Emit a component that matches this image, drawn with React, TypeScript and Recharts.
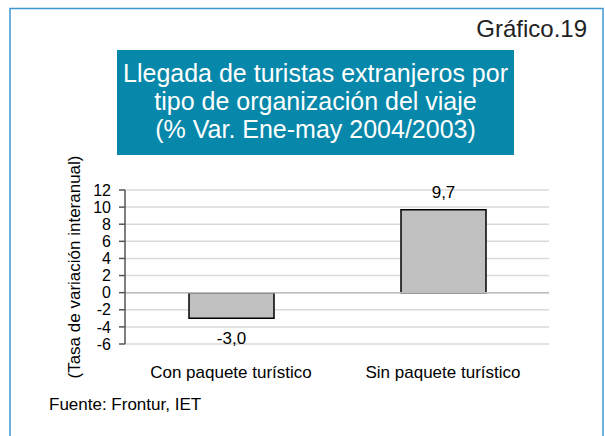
import React from 'react';
import {
  BarChart, Bar, XAxis, YAxis, CartesianGrid, ReferenceLine, LabelList,
} from 'recharts';

const categories = ['Con paquete turístico', 'Sin paquete turístico'];
const variation = [-3.0, 9.7];
const yTicks = [-6, -4, -2, 0, 2, 4, 6, 8, 10, 12];
const titleLines = [
  'Llegada de turistas extranjeros por',
  'tipo de organización del viaje',
  '(% Var. Ene-may 2004/2003)',
];
const chartNumber = 'Gráfico.19';
const yLabel = '(Tasa de variación interanual)';
const source = 'Fuente: Frontur, IET';

const FONT = '"Liberation Sans", Arial, Helvetica, sans-serif';
const W = 605;
const H = 436;

const data = categories.map((name, i) => ({ name, value: variation[i] }));

const fmt = (v: number) => v.toFixed(1).replace('.', ',');

const ValueLabel = (props: any) => {
  const { x, y, width, height, value } = props;
  const top = Math.min(y, y + height);
  const bottom = Math.max(y, y + height);
  const ty = value < 0 ? bottom + 26 : top - 12;
  return (
    <text x={x + width / 2} y={ty} textAnchor="middle" fontSize={17} fontFamily={FONT} fill="#000">
      {fmt(value)}
    </text>
  );
};

export default function App() {
  return (
    <div style={{ position: 'absolute', left: 0, top: 0, width: W, height: H, background: '#fff', fontFamily: FONT }}>
      <svg width={W} height={H} style={{ position: 'absolute', left: 0, top: 0 }}>
        <rect x={10} y={8.5} width={593} height={440} fill="none" stroke="#3f98cf" strokeWidth={1.5} />
        <text x={587} y={37} textAnchor="end" fontSize={24} fontFamily={FONT} fill="#222">{chartNumber}</text>
        <rect x={117} y={50} width={397} height={105} fill="#0787a9" />
        {titleLines.map((t, i) => (
          <text key={t} x={315.5} y={82 + i * 28} textAnchor="middle" fontSize={25} fontFamily={FONT} fill="#fff">{t}</text>
        ))}
        <text
          transform="translate(80 267) rotate(-90)"
          textAnchor="middle"
          fontSize={17}
          fontFamily={FONT}
          fill="#000"
        >
          {yLabel}
        </text>
        <text x={49} y={410} fontSize={17} fontFamily={FONT} fill="#000">{source}</text>
      </svg>
      <div style={{ position: 'absolute', left: 0, top: 0 }}>
        <BarChart width={W} height={H} data={data} margin={{ top: 190, right: 56, bottom: 62, left: 65 }}>
          <CartesianGrid vertical={false} stroke="#d9d9d9" strokeWidth={1.5} />
          <XAxis
            dataKey="name"
            axisLine={false}
            tickLine={false}
            height={30}
            tickMargin={16}
            tick={{ fontSize: 17, fill: '#000', fontFamily: FONT }}
          />
          <YAxis
            width={60}
            domain={[-6, 12]}
            ticks={yTicks}
            interval={0}
            axisLine={{ stroke: '#555', strokeWidth: 1.5 }}
            tickLine={{ stroke: '#555', strokeWidth: 1.5 }}
            tickSize={6}
            tickMargin={8}
            tick={{ fontSize: 16, fill: '#000', fontFamily: FONT }}
          />
          <ReferenceLine y={0} stroke="#bdbdbd" strokeWidth={1.5} />
          <Bar dataKey="value" barSize={85} fill="#c0c0c0" stroke="#000" strokeWidth={1.5} isAnimationActive={false}>
            <LabelList dataKey="value" content={ValueLabel} />
          </Bar>
        </BarChart>
      </div>
    </div>
  );
}
